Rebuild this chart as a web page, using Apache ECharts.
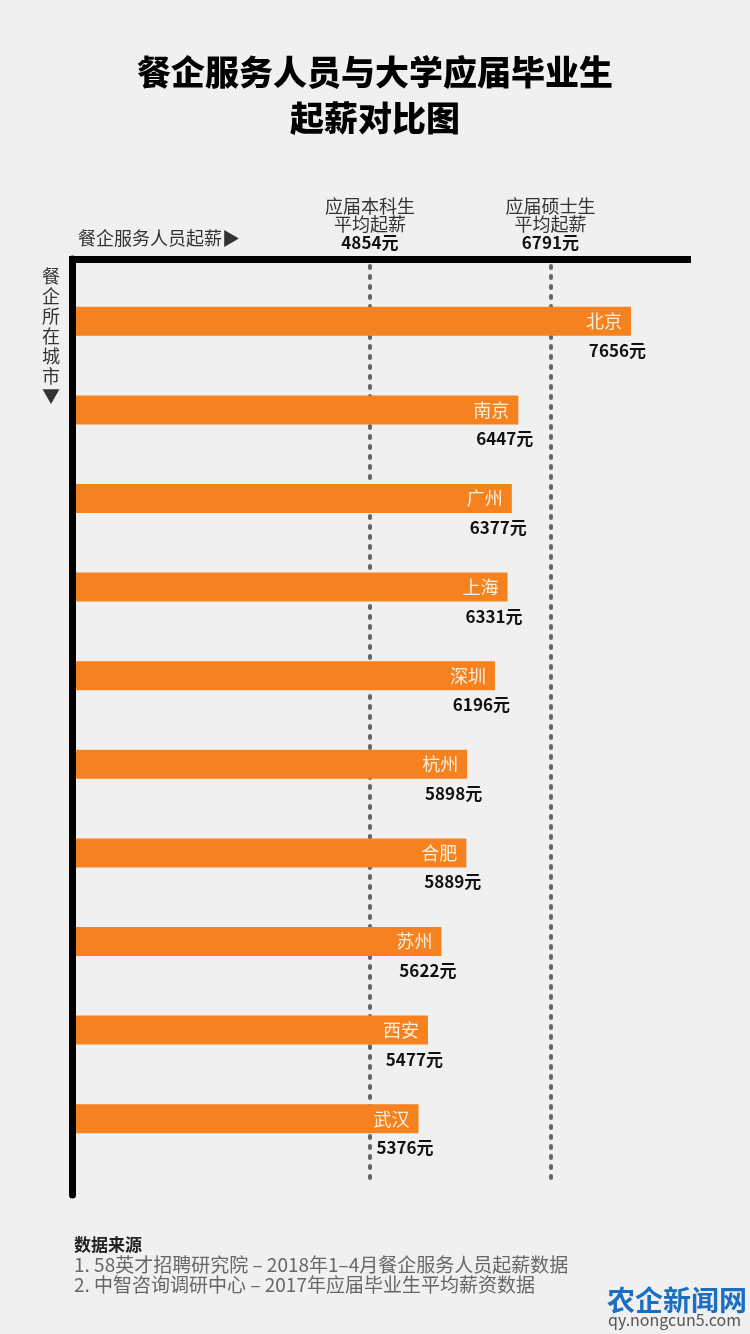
<!DOCTYPE html>
<html>
<head>
<meta charset="utf-8">
<script src="https://cdn.jsdelivr.net/npm/echarts@6/dist/echarts.min.js"></script>
<style>
html,body{margin:0;padding:0;background:#f0f0f0;}
#c{width:750px;height:1334px;}
</style>
</head>
<body>
<div id="c"></div>
<script>
const cities = ['北京','南京','广州','上海','深圳','杭州','合肥','苏州','西安','武汉'];
const salaries = [7656,6447,6377,6331,6196,5898,5889,5622,5477,5376];
const refNames = ['应届本科生\n平均起薪', '应届硕士生\n平均起薪'];
const refValues = [4854, 6791];
const titleText = '餐企服务人员与大学应届毕业生\n起薪对比图';
const xName = '餐企服务人员起薪▶';
const yName = '餐企所在城市▼';
const sourceTitle = '数据来源';
const sources = ['1. 58英才招聘研究院 – 2018年1–4月餐企服务人员起薪数据', '2. 中智咨询调研中心 – 2017年应届毕业生平均薪资数据'];

const FONT = '"Noto Sans CJK SC", "Noto Sans", sans-serif';
const xMin = 1700, xMax = 8300;

const chart = echarts.init(document.getElementById('c'), null, {renderer: 'canvas'});
const option = {
  backgroundColor: '#f0f0f0',
  animation: false,
  textStyle: {fontFamily: FONT},
  title: [
    {text: titleText, left: 'center', top: 44,
     textStyle: {fontSize: 34, fontWeight: 900, color: '#000', lineHeight: 46, fontFamily: FONT}},
    {text: xName, left: 73, top: 224,
     textStyle: {fontSize: 18, fontWeight: 'normal', color: '#333', fontFamily: FONT}},
    {text: yName.split('').join('\n'), left: 37, top: 261,
     textStyle: {fontSize: 18, fontWeight: 'normal', color: '#333', lineHeight: 20, fontFamily: FONT}},
    {text: sourceTitle, left: 69, top: 1231,
     textStyle: {fontSize: 17, fontWeight: 'bold', color: '#222', fontFamily: FONT}},
    {text: sources.join('\n'), left: 69, top: 1250,
     textStyle: {fontSize: 19, fontWeight: 'normal', color: '#666', lineHeight: 20, fontFamily: FONT}},
    {text: '农企新闻网', left: 602, top: 1281,
     textStyle: {fontSize: 28, fontWeight: 'bold', color: '#1b6fc2', fontFamily: FONT}},
    {text: 'qy.nongcun5.com', left: 603, top: 1307,
     textStyle: {fontSize: 16, fontWeight: 'normal', color: '#555', fontFamily: FONT}}
  ],
  grid: [
    {left: 76, top: 277, width: 615, height: 886},
    {left: 72.5, top: 259, width: 615, height: 936},
    {left: 76, top: 262, width: 615, height: 916}
  ],
  xAxis: [
    {gridIndex: 0, type: 'value', min: xMin, max: xMax, show: false},
    {gridIndex: 1, type: 'value', min: 0, max: 1, position: 'top',
     axisLine: {show: true, onZero: false, lineStyle: {color: '#000', width: 7, cap: 'square'}},
     axisTick: {show: false}, axisLabel: {show: false}, splitLine: {show: false}},
    {gridIndex: 2, type: 'value', min: xMin, max: xMax, show: false}
  ],
  yAxis: [
    {gridIndex: 0, type: 'category', data: cities, inverse: true, show: false},
    {gridIndex: 1, type: 'value', min: 0, max: 1, position: 'left',
     axisLine: {show: true, onZero: false, lineStyle: {color: '#000', width: 7}},
     axisTick: {show: false}, axisLabel: {show: false}, splitLine: {show: false}},
    {gridIndex: 2, type: 'value', min: 0, max: 1, show: false}
  ],
  series: [
    {type: 'scatter', xAxisIndex: 2, yAxisIndex: 2, data: [], silent: true, z: 1,
     markLine: {
       symbol: 'none', silent: true, z: 1,
       lineStyle: {color: '#666', width: 4, type: [2, 8], cap: 'round'},
       data: refValues.map((v, i) => ({
         xAxis: v,
         label: {show: true, position: 'end', distance: 10,
           formatter: '{n|' + refNames[i].split('\n').join('}\n{n|') + '}\n{v|' + v + '元}',
           rich: {
             n: {fontSize: 18, color: '#333', lineHeight: 18.5, fontFamily: FONT},
             v: {fontSize: 17, color: '#111', fontWeight: 'bold', lineHeight: 18.5, fontFamily: FONT}
           }}
       }))
     }},
    {type: 'bar', xAxisIndex: 0, yAxisIndex: 0, data: salaries, barWidth: 29, barGap: '-100%', z: 5,
     itemStyle: {color: '#f5821f'},
     label: {show: true, position: 'insideRight', distance: 9,
       formatter: p => cities[p.dataIndex],
       color: '#fdeedd', fontSize: 18, fontFamily: FONT}},
    {type: 'bar', xAxisIndex: 0, yAxisIndex: 0, data: salaries, barWidth: 29, barGap: '-100%', z: 6,
     silent: true, itemStyle: {color: 'rgba(0,0,0,0)'},
     label: {show: true, position: ['100%', '100%'], align: 'right', verticalAlign: 'top',
       offset: [15, 6], formatter: p => p.value + '元',
       color: '#111', fontSize: 17, fontWeight: 'bold', fontFamily: FONT}}
  ]
};
chart.setOption(option);
</script>
</body>
</html>
